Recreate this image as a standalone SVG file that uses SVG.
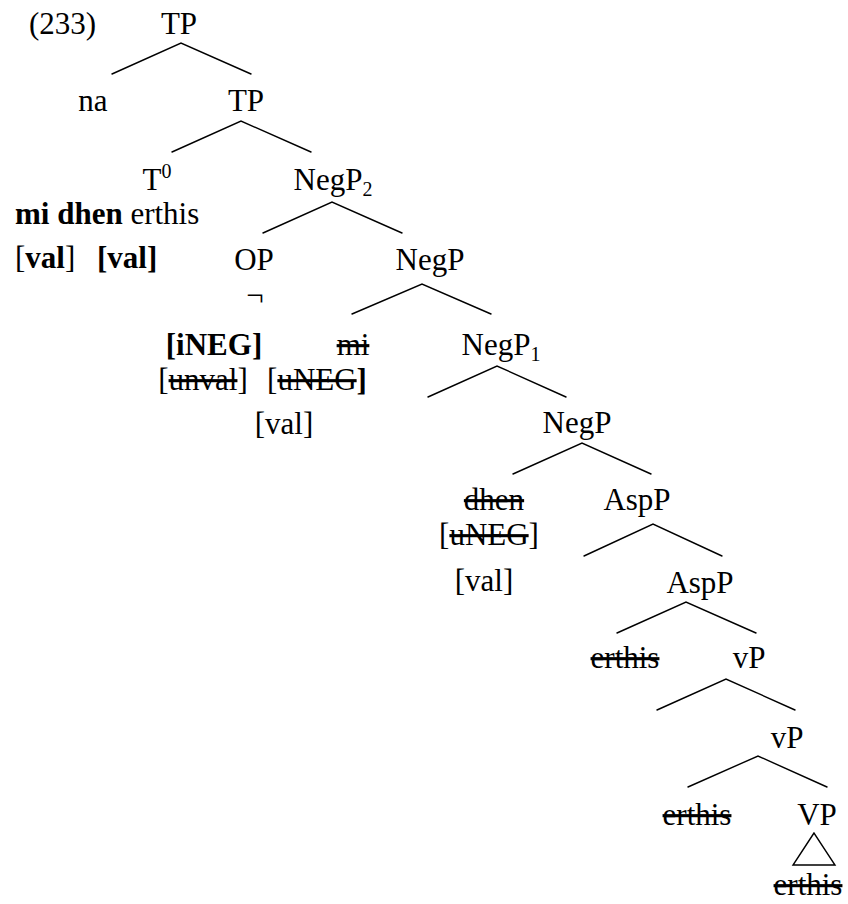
<svg xmlns="http://www.w3.org/2000/svg" width="848" height="904" viewBox="0 0 848 904" font-family="'Liberation Serif', 'Times New Roman', 'DejaVu Serif', serif">
  <style>
    text { font-family: "Liberation Serif", "Times New Roman", "DejaVu Serif", serif; font-size: 31px; fill: #000; }
    .c { text-anchor: middle; }
    .b { font-weight: bold; }
    .s { text-decoration: line-through; }
    .sub { font-size: 20px; }
    .edge { stroke: #000; stroke-width: 1.4; fill: none; stroke-linecap: round; }
  </style>
  <rect width="848" height="904" fill="#fff"/>

  <!-- example number -->
  <text id="exnum" x="29" y="34">(233)</text>

  <!-- branches -->
  <g id="connectors">
    <polyline class="edge" points="112,74 181,43 251,74"/>
    <polyline class="edge" points="172,152 241,121 311,152"/>
    <polyline class="edge" points="263,233 332,202 402,233"/>
    <polyline class="edge" points="352,314 422,284 491,314"/>
    <polyline class="edge" points="428,397 497,366 566,397"/>
    <polyline class="edge" points="513,474 582,443 651,474"/>
    <polyline class="edge" points="584,556 653,524 722,556"/>
    <polyline class="edge" points="617,633 686,602 756,633"/>
    <polyline class="edge" points="657,710 726,679 795,710"/>
    <polyline class="edge" points="688,787 758,756 827,787"/>
    <polygon class="edge" points="814,833 793,865 835,865"/>
  </g>

  <g id="tp-root"><text class="c" x="179" y="34">TP</text></g>
  <g id="na"><text class="c" x="93" y="111">na</text></g>
  <g id="tp-bar"><text class="c" x="246" y="111">TP</text></g>

  <g id="t0">
    <text class="c" x="157" y="190">T<tspan class="sub" dy="-12">0</tspan></text>
    <text x="15" y="224"><tspan class="b">mi dhen</tspan> erthis</text>
    <text x="15" y="268">[<tspan class="b">val</tspan>]</text>
    <text class="b" x="97" y="268">[val]</text>
  </g>

  <g id="negp2"><text class="c" x="333" y="190">NegP<tspan class="sub" dy="6">2</tspan></text></g>

  <g id="op">
    <text class="c" x="254" y="270">OP</text>
    <text class="c" x="255" y="306">¬</text>
    <text class="c b" x="214" y="355">[iNEG]</text>
    <text class="c" x="203" y="390">[<tspan class="s">unval</tspan>]</text>
  </g>

  <g id="negp-upper"><text class="c" x="430" y="270">NegP</text></g>

  <g id="mi">
    <text class="c s" x="353" y="355">mi</text>
    <text class="c" x="317" y="390">[<tspan class="s">uNEG</tspan><tspan class="b">]</tspan></text>
    <text class="c" x="284" y="434">[val]</text>
  </g>

  <g id="negp1"><text class="c" x="501" y="355">NegP<tspan class="sub" dy="6">1</tspan></text></g>
  <g id="negp-lower"><text class="c" x="577" y="433">NegP</text></g>

  <g id="dhen">
    <text class="c s" x="494" y="510">dhen</text>
    <text class="c" x="489" y="545">[<tspan class="s">uNEG</tspan>]</text>
    <text class="c" x="484" y="591">[val]</text>
  </g>

  <g id="aspp-upper"><text class="c" x="637" y="510">AspP</text></g>
  <g id="aspp-bar"><text class="c" x="700" y="593">AspP</text></g>
  <g id="erthis-asp"><text class="c s" x="625" y="668">erthis</text></g>
  <g id="vp-upper"><text class="c" x="749" y="668">vP</text></g>
  <g id="vp-bar"><text class="c" x="787" y="748">vP</text></g>
  <g id="erthis-v"><text class="c s" x="697" y="825">erthis</text></g>
  <g id="vp-lex">
    <text class="c" x="817" y="825">VP</text>
    <text class="c s" x="808" y="895">erthis</text>
  </g>
</svg>
